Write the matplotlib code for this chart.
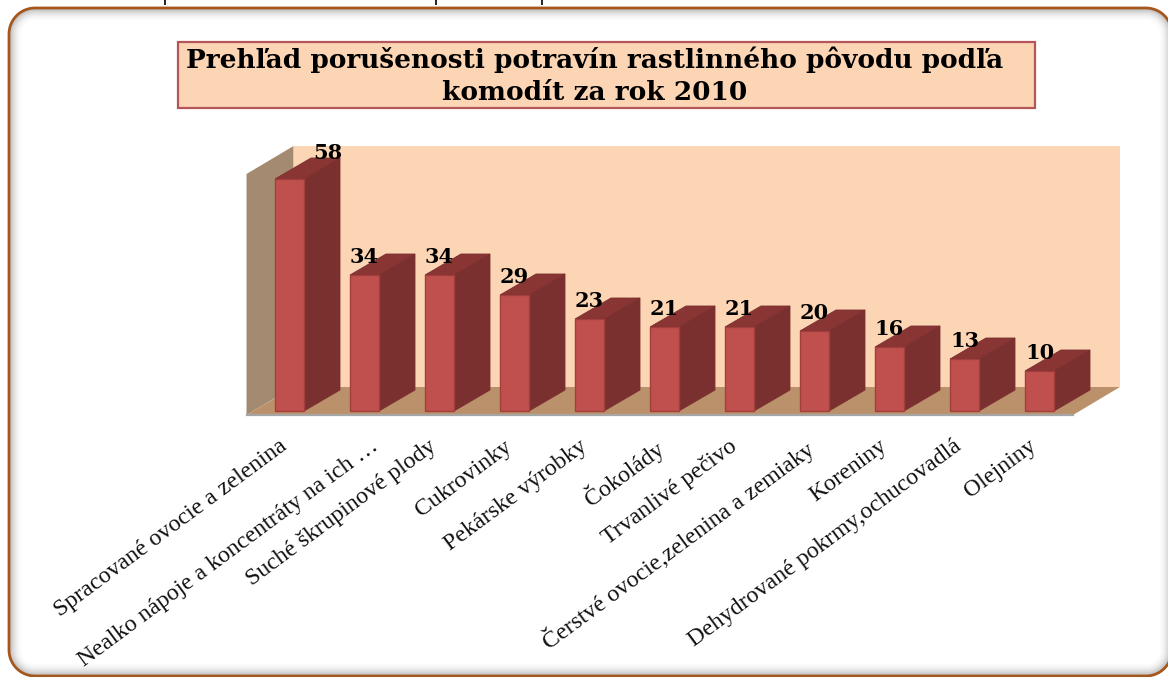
import numpy as np
import matplotlib
matplotlib.use('Agg')
import matplotlib.pyplot as plt
from matplotlib.lines import Line2D
from matplotlib.patches import Polygon, Rectangle

categories = ['Spracované ovocie a zelenina', 'Nealko nápoje a koncentráty na ich …',
              'Suché škrupinové plody', 'Cukrovinky', 'Pekárske výrobky', 'Čokolády',
              'Trvanlivé pečivo', 'Čerstvé ovocie,zelenina a zemiaky', 'Koreniny',
              'Dehydrované pokrmy,ochucovadlá', 'Olejniny']
values = [58, 34, 34, 29, 23, 21, 21, 20, 16, 13, 10]
title_lines = ['Prehľad porušenosti potravín rastlinného pôvodu podľa', 'komodít za rok 2010']

W, H = 1168, 677
PX_X, PX_Y = 75, 4           # pixels per category / per value
ZERO_X, ZERO_Y = 289.5, 411  # where bar 0 centre / value 0 sits in the image
BAR_W = 29 / PX_X
DX, DY = 36 / PX_X, 21 / PX_Y   # 3d depth of the bars
WDX, WDY = 47 / PX_X, 28 / PX_Y  # 3d depth of the walls

plt.rcParams['font.family'] = ['Liberation Serif', 'DejaVu Serif']


def rounded_rect(x0, y0, x1, y1, r):
    # plain line vertices, bezier corners get mangled when they run off the canvas
    xs, ys = [], []
    for cx, cy, start in [(x1 - r, y1 - r, 0), (x0 + r, y1 - r, 90), (x0 + r, y0 + r, 180), (x1 - r, y0 + r, 270)]:
        t = np.radians(np.linspace(start, start + 90, 16))
        xs.extend(cx + r * np.cos(t))
        ys.extend(cy + r * np.sin(t))
    return xs + xs[:1], ys + ys[:1]


fig = plt.figure(figsize=(W / 100, H / 100), dpi=100)
ax = fig.add_axes([0, 0, 1, 1])
ax.set_xlim(-ZERO_X / PX_X, (W - ZERO_X) / PX_X)
ax.set_ylim(-(H - ZERO_Y) / PX_Y, ZERO_Y / PX_Y)
ax.axis('off')

# page frame in pixels, soft shadow inside and the brown line on top
for i in range(12):
    inset = 1.5 + i
    fx, fy = rounded_rect(9 + inset, 1 + inset, 1172 - inset, 669 - inset, max(26 - inset, 4))
    fig.add_artist(Line2D(fx, fy, color='#555555', lw=0.9, alpha=0.30 * (1 - i / 12) ** 2, transform=None))
fx, fy = rounded_rect(9, 1, 1172, 669, 26)
fig.add_artist(Line2D(fx, fy, color='#a5561b', lw=2.0, transform=None))

# descenders of the cut off line of text above the frame
for px in [165, 436, 542]:
    fig.add_artist(Line2D([px, px], [H - 4, H], color='#222222', lw=1.4, transform=None))

# title box
fig.patches.append(Rectangle((178, H - 108), 857, 66, fc='#fcd5b5', ec='#b4555a', lw=1.6,
                             transform=None, figure=fig))
for ln, py in zip(title_lines, [60, 92]):
    fig.text(595 / W, 1 - py / H, ln, fontsize=19, fontweight='bold', ha='center', va='center',
             family=['DejaVu Serif'], color='black')

# walls and floor
left = (246.5 - ZERO_X) / PX_X
right = (1073 - ZERO_X) / PX_X
top = (411 - 174) / PX_Y
floor = -1
ax.add_patch(Polygon([(left + WDX, floor + WDY), (right + WDX, floor + WDY), (right + WDX, top + WDY),
                      (left + WDX, top + WDY)], fc='#fcd5b5', ec='none', zorder=2))
ax.add_patch(Polygon([(left, floor), (left + WDX, floor + WDY), (left + WDX, top + WDY), (left, top)],
                     fc='#a58a72', ec='none', zorder=2))
ax.add_patch(Polygon([(left, floor), (right, floor), (right + WDX, floor + WDY), (left + WDX, floor + WDY)],
                     fc='#bb916b', ec='none', zorder=3))
ax.plot([left, right], [floor, floor], color='#a6a6a6', lw=1.6, zorder=3)

# bars
xs = list(range(len(values)))
ax.bar(xs, values, width=BAR_W, color='#c0504d', edgecolor='#a23f3d', lw=1, zorder=6)
for x, v in zip(xs, values):
    r = x + BAR_W / 2
    l = x - BAR_W / 2
    ax.add_patch(Polygon([(r, 0), (r + DX, DY), (r + DX, v + DY), (r, v)], fc='#7b3030', ec='#7b3030',
                         lw=0.6, zorder=5))
    ax.add_patch(Polygon([(l, v), (r, v), (r + DX, v + DY), (l + DX, v + DY)], fc='#883534', ec='#7b3030',
                         lw=0.6, zorder=5))
    # the tallest bar has its label pushed to the right and up
    shift_x, shift_y = (0.51, 4.1) if v == max(values) else (0, 2.1)
    ax.text(x + shift_x, v + shift_y, str(v), fontsize=15, fontweight='bold', ha='center', va='bottom',
            family=['DejaVu Serif'], zorder=7)

# rotated category labels, right end under each bar
for x, lab in zip(xs, categories):
    # the truncated label sits further right in the original
    nudge = 0.22 if lab.endswith('…') else 0
    ax.text(x - 0.15 + nudge, -6.2, lab, rotation=36.5, rotation_mode='anchor', ha='right', va='top',
            fontsize=17.2, color='#111111', zorder=7)

fig.savefig('out.png', dpi=100)
